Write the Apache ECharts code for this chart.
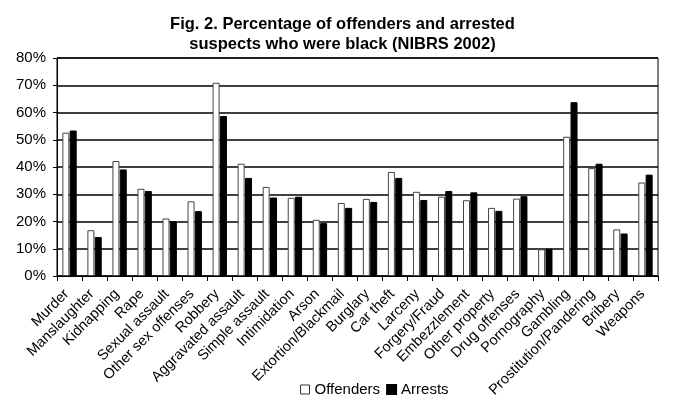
<!DOCTYPE html>
<html><head><meta charset="utf-8">
<script src="https://cdn.jsdelivr.net/npm/echarts@6/dist/echarts.min.js"></script>
<style>html,body{margin:0;padding:0;background:#fff}#c{width:685px;height:401px}</style>
</head><body><div id="c"></div>
<script>
const categories = ["Murder","Manslaughter","Kidnapping","Rape","Sexual assault","Other sex offenses","Robbery","Aggravated assault","Simple assault","Intimidation","Arson","Extortion/Blackmail","Burglary","Car theft","Larceny","Forgery/Fraud","Embezzlement","Other property","Drug offenses","Pornography","Gambling","Prostitution/Pandering","Bribery","Weapons"];
const offenders = [52.6,16.8,42.2,32.0,21.1,27.4,70.9,41.2,32.7,28.7,20.6,26.8,28.3,38.2,30.9,29.1,27.8,25.0,28.4,9.8,51.1,39.6,17.1,34.3];
const arrests = [53.4,14.3,39.1,31.2,20.1,23.8,58.7,36.0,28.8,29.1,19.4,25.0,27.2,36.0,27.9,31.2,30.7,23.9,29.3,10.0,63.8,41.2,15.6,37.2];
const yTicks = [0,10,20,30,40,50,60,70,80];

const chart = echarts.init(document.getElementById('c'));
const font = 'Arial, "Liberation Sans", sans-serif';
chart.setOption({
  animation:false,
  textStyle:{fontFamily:font,color:'#000'},
  title:{
    text:'Fig. 2. Percentage of offenders and arrested\nsuspects who were black (NIBRS 2002)',
    left:'center', top:9,
    textStyle:{fontFamily:font,fontSize:16.5,fontWeight:'bold',color:'#000',lineHeight:20}
  },
  legend:{
    top:377, left:295, itemWidth:9, itemHeight:9, itemGap:6,
    textStyle:{fontFamily:font,fontSize:15,color:'#000'},
    data:[{name:'Offenders',icon:'rect',itemStyle:{color:'#fff',borderColor:'#333',borderWidth:1}},{name:'Arrests',icon:'rect'}]
  },
  grid:{left:57,right:27,top:58,bottom:125,show:true,borderColor:'#000',borderWidth:1,backgroundColor:'transparent'},
  xAxis:{
    type:'category', data:categories,
    axisLine:{lineStyle:{color:'#000',width:1}},
    axisTick:{show:true,alignWithLabel:false,length:5,lineStyle:{color:'#000'}},
    axisLabel:{interval:0,rotate:45,fontSize:14.5,color:'#000',fontFamily:font,margin:13,padding:[0,4,0,0]}
  },
  yAxis:{
    type:'value', min:yTicks[0], max:yTicks[yTicks.length-1], interval:10,
    axisLine:{show:true,lineStyle:{color:'#000'}},
    axisTick:{show:true,length:4,lineStyle:{color:'#000'}},
    axisLabel:{formatter:'{value}%',fontSize:15,color:'#000',fontFamily:font,margin:11},
    splitLine:{show:true,lineStyle:{color:'#000',width:1.5}}
  },
  series:[
    {name:'Offenders',type:'bar',data:offenders,barWidth:7,barGap:'5%',
     itemStyle:{color:'#fff',borderColor:'#444',borderWidth:1}},
    {name:'Arrests',type:'bar',data:arrests,barWidth:7,
     itemStyle:{color:'#000',borderColor:'#000',borderWidth:1}}
  ]
});
</script></body></html>
